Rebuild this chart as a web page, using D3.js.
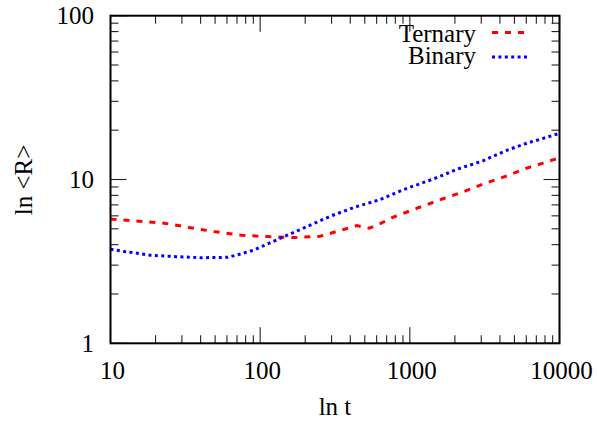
<!DOCTYPE html>
<html>
<head>
<meta charset="utf-8">
<script src="https://cdn.jsdelivr.net/npm/d3@7"></script>
<style>
  html, body { margin: 0; padding: 0; background: #fff; }
  svg { display: block; }
  text { font-family: "Liberation Serif", "Times New Roman", serif; fill: #000; }
</style>
</head>
<body>
<svg id="chart" width="597" height="421"></svg>
<script>
// Ternary run: time t and mean radius <R>
const ternaryT = [10, 10.4, 15.4, 22.9, 34.1, 50.6, 75.2, 111, 166, 251, 366, 443, 535, 643, 774, 1119, 1628, 2366, 3105, 4492, 6109, 7763, 9155, 10000];
const ternaryR = [5.75, 5.72, 5.56, 5.41, 5.08, 4.79, 4.57, 4.48, 4.42, 4.50, 4.97, 5.23, 5.04, 5.41, 5.89, 6.68, 7.58, 8.52, 9.40, 10.56, 11.77, 12.58, 13.23, 13.55];

// Binary run
const binaryT = [10, 12.4, 15.1, 18.4, 27.4, 40.6, 60.9, 74.1, 89.9, 106, 141, 203, 294, 427, 624, 908, 1445, 2101, 3040, 4395, 6071, 8260, 10000];
const binaryR = [3.75, 3.63, 3.55, 3.45, 3.38, 3.33, 3.35, 3.51, 3.70, 3.95, 4.44, 5.13, 5.97, 6.77, 7.51, 8.68, 10.09, 11.61, 12.94, 15.02, 16.67, 18.13, 19.12];

const xTickLabels = ["10", "100", "1000", "10000"];
const yTickLabels = ["1", "10", "100"];
const seriesNames = ["Ternary", "Binary"];

const svg = d3.select("#chart");
const plotLeft = 110.5, plotRight = 559.5, plotTop = 15.7, plotBottom = 343.3;

const x = d3.scaleLog().domain([10, 10000]).range([plotLeft, plotRight]);
const y = d3.scaleLog().domain([1, 100]).range([plotBottom, plotTop]);

const FONT = 25;
const majorLen = 16, minorLen = 8;

// ticks on all four sides, pointing inward
const tickG = svg.append("g").attr("stroke", "#222").attr("stroke-width", 1.1);
const xMajor = xTickLabels.map(Number);
const yMajor = yTickLabels.map(Number);
x.ticks().forEach(v => {
  const len = xMajor.includes(v) ? majorLen : minorLen;
  const px = x(v);
  tickG.append("line").attr("x1", px).attr("x2", px).attr("y1", plotBottom).attr("y2", plotBottom - len);
  tickG.append("line").attr("x1", px).attr("x2", px).attr("y1", plotTop).attr("y2", plotTop + len);
});
y.ticks().forEach(v => {
  const len = yMajor.includes(v) ? majorLen : minorLen;
  const py = y(v);
  tickG.append("line").attr("x1", plotLeft).attr("x2", plotLeft + len).attr("y1", py).attr("y2", py);
  tickG.append("line").attr("x1", plotRight).attr("x2", plotRight - len).attr("y1", py).attr("y2", py);
});

// tick labels
svg.append("g").selectAll("text").data(xTickLabels).join("text")
  .attr("x", d => x(+d) + 2).attr("y", 379)
  .attr("text-anchor", "middle").attr("font-size", FONT)
  .text(d => d);
svg.append("g").selectAll("text").data(yTickLabels).join("text")
  .attr("x", 94).attr("y", d => y(+d) + 8.5)
  .attr("text-anchor", "end").attr("font-size", FONT)
  .text(d => d);

// axis titles
svg.append("text").attr("x", (plotLeft + plotRight) / 2).attr("y", 415)
  .attr("text-anchor", "middle").attr("font-size", FONT).text("ln t");
svg.append("text").attr("transform", "translate(31.5,180) rotate(-90)")
  .attr("text-anchor", "middle").attr("font-size", FONT).text("ln <R>");

// curves
const line = d3.line().x(d => x(d[0])).y(d => y(d[1]));
const series = [
  { name: seriesNames[0], pts: d3.zip(ternaryT, ternaryR), color: "#ff0000", dash: "6,7" },
  { name: seriesNames[1], pts: d3.zip(binaryT, binaryR), color: "#0000ff", dash: "3,3.4" }
];
svg.append("defs").append("clipPath").attr("id", "plot")
  .append("rect").attr("x", plotLeft).attr("y", plotTop)
  .attr("width", plotRight - plotLeft).attr("height", plotBottom - plotTop);
svg.append("g").attr("clip-path", "url(#plot)").selectAll("path").data(series).join("path")
  .attr("d", d => line(d.pts))
  .attr("fill", "none").attr("stroke", d => d.color)
  .attr("stroke-width", 3).attr("stroke-dasharray", d => d.dash);

// legend
const legendRows = [32.5, 57];
const leg = svg.append("g");
series.forEach((s, i) => {
  leg.append("text").attr("x", 476).attr("y", legendRows[i] + (i === 0 ? 9 : 7))
    .attr("text-anchor", "end").attr("font-size", FONT).text(s.name);
  leg.append("line").attr("x1", 492).attr("x2", 527).attr("y1", legendRows[i]).attr("y2", legendRows[i])
    .attr("stroke", s.color).attr("stroke-width", 3).attr("stroke-dasharray", s.dash);
});

// frame
svg.append("rect").attr("x", plotLeft).attr("y", plotTop)
  .attr("width", plotRight - plotLeft).attr("height", plotBottom - plotTop)
  .attr("fill", "none").attr("stroke", "#000").attr("stroke-width", 2);
</script>
</body>
</html>
